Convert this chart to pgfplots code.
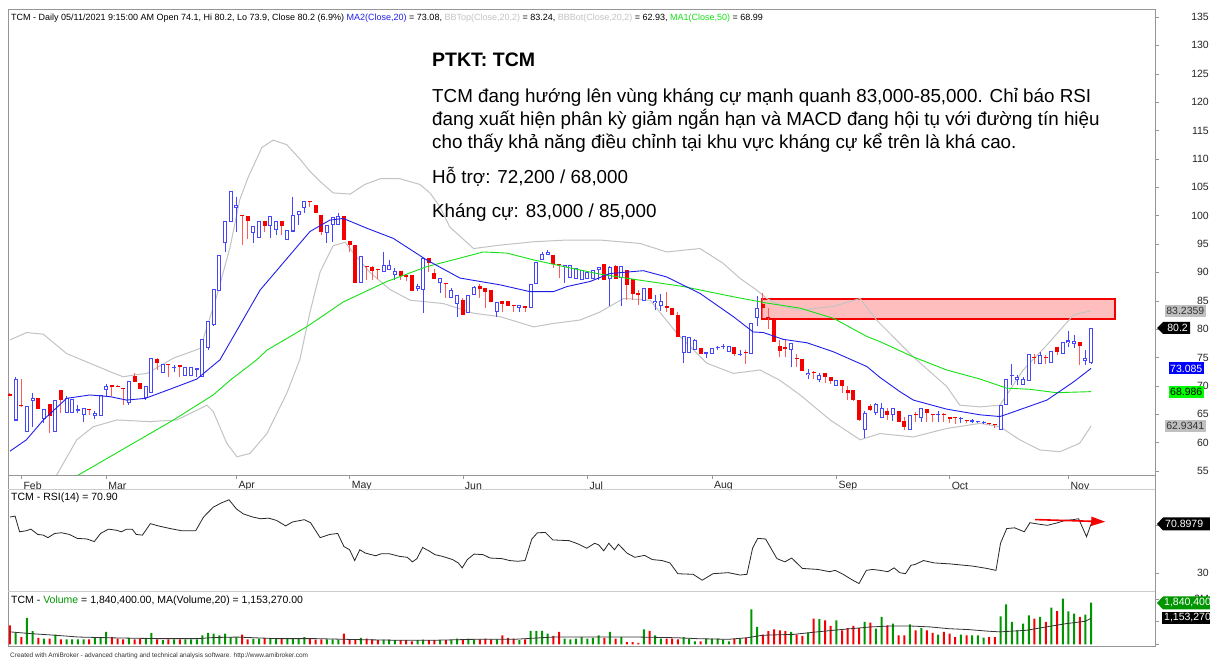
\documentclass[border=0pt]{standalone}
\usepackage{fontspec}
\setmainfont{Liberation Sans}
\usepackage{pgfplots}
\usepackage{pgfplotstable}
\pgfplotsset{compat=1.18}
\usetikzlibrary{arrows.meta}

\definecolor{cblue}{RGB}{70,70,255}
\definecolor{cred}{RGB}{245,0,0}
\definecolor{wred}{RGB}{255,90,90}
\definecolor{mablue}{RGB}{30,30,235}
\definecolor{magreen}{RGB}{20,225,20}
\definecolor{bbgray}{RGB}{195,195,195}
\definecolor{vgreen}{RGB}{0,150,0}
\definecolor{frm}{RGB}{150,150,150}
\definecolor{lblgray}{RGB}{192,192,192}
\definecolor{rectfill}{RGB}{255,190,190}
\definecolor{lgreen}{RGB}{0,255,0}

\pgfplotstableread{
i o h l c v up
0 68.5 68.7 68.2 68.3 0.84 0
1 63.9 71.5 63.9 71.3 0.52 1
2 66.6 71.2 66.3 66.4 0.32 0
3 61.8 66.5 61.8 66.5 1.17 1
4 67.4 68.7 62.8 67.9 0.58 1
5 67.9 67.9 66.0 66.0 0.28 0
6 64.1 66.0 63.4 66.0 0.25 1
7 66.8 66.8 61.7 64.7 0.25 0
8 61.8 67.5 61.8 67.5 0.43 1
9 69.3 69.3 65.2 67.6 0.22 0
10 65.2 68.2 65.2 67.9 0.22 1
11 65.2 67.7 65.2 67.7 0.22 1
12 65.6 66.7 65.2 65.9 0.22 1
13 64.9 66.1 63.7 66.1 0.22 1
14 66.0 66.0 64.9 65.8 0.22 0
15 64.7 65.6 64.2 65.2 0.32 1
16 64.7 68.4 64.7 68.4 0.32 1
17 69.3 70.3 68.0 69.9 0.55 1
18 70.1 70.1 68.3 69.8 0.32 0
19 70.0 70.1 69.9 69.9 0.25 0
20 69.6 69.6 66.6 69.4 0.22 0
21 67.0 70.9 66.6 70.9 0.28 1
22 71.7 72.2 70.6 70.6 0.22 0
23 70.5 70.5 69.4 69.4 0.25 0
24 67.8 70.0 67.6 70.0 0.28 1
25 68.8 74.9 68.8 74.9 0.50 1
26 74.7 74.9 72.8 74.1 0.22 0
27 72.3 73.9 72.3 73.9 0.18 1
28 73.9 73.9 71.6 73.7 0.22 0
29 73.1 73.6 72.5 73.4 0.22 1
30 73.6 73.6 71.6 73.4 0.22 0
31 71.7 73.4 71.7 73.4 0.22 1
32 71.8 73.4 71.8 73.4 0.22 1
33 72.8 73.1 71.5 73.1 0.22 1
34 71.6 78.2 71.6 78.2 0.40 1
35 76.6 81.4 76.3 81.4 0.50 1
36 80.7 87.1 80.5 87.1 0.47 1
37 86.8 93.0 86.8 93.0 0.40 1
38 95.1 99.1 93.6 99.1 0.47 1
39 98.9 104.4 98.9 104.4 0.32 1
40 101.3 103.3 97.2 101.9 0.32 1
41 100.1 100.1 94.8 99.9 0.43 0
42 100.0 100.0 95.8 99.1 0.22 0
43 96.9 98.2 95.2 98.2 0.25 1
44 96.0 99.1 96.0 99.1 0.25 1
45 99.1 99.1 97.2 98.1 0.28 0
46 98.1 99.9 96.0 99.9 0.25 1
47 97.4 99.1 96.6 99.1 0.25 1
48 99.1 99.1 96.6 98.2 0.25 0
49 95.7 97.4 95.7 97.4 0.25 1
50 97.2 103.3 97.2 100.1 0.25 1
51 100.1 100.8 98.3 100.8 0.25 1
52 101.3 102.5 100.4 102.5 0.32 1
53 102.6 102.6 101.6 102.4 0.25 0
54 101.9 101.9 100.4 100.4 0.21 0
55 100.1 100.1 96.6 97.2 0.22 0
56 96.9 98.3 95.1 98.3 0.22 1
57 98.3 99.7 95.3 99.7 0.22 1
58 98.3 100.5 98.3 99.9 0.18 1
59 99.9 99.9 95.7 95.7 0.47 0
60 95.6 95.6 93.6 94.8 0.22 0
61 94.8 94.8 88.1 88.1 0.21 0
62 88.1 92.9 88.1 92.9 0.28 1
63 91.2 91.2 88.7 91.0 0.25 0
64 90.9 91.1 88.7 90.3 0.22 0
65 90.6 90.6 88.9 90.4 0.18 0
66 90.1 93.6 90.1 91.3 0.21 1
67 90.4 92.2 90.4 91.3 0.21 1
68 89.5 90.7 88.7 90.3 0.18 1
69 90.3 90.3 88.7 89.4 0.18 0
70 89.5 89.5 88.4 89.2 0.18 0
71 89.5 89.5 86.7 86.7 0.13 0
72 87.0 88.0 86.8 87.6 0.18 1
73 86.9 92.5 82.8 92.5 0.21 1
74 92.5 92.5 90.1 91.6 0.18 0
75 89.9 90.6 88.8 88.8 0.18 0
76 88.2 89.0 86.3 89.0 0.18 1
77 88.2 88.2 85.4 88.0 0.18 0
78 85.4 87.3 85.4 86.9 0.18 1
79 84.4 86.0 82.2 86.0 0.25 1
80 85.1 85.4 82.5 82.5 0.18 0
81 82.8 86.0 82.8 86.0 0.25 1
82 86.0 87.6 86.0 87.4 0.22 1
83 87.6 88.0 85.4 87.0 0.22 0
84 87.2 87.2 83.7 86.6 0.25 0
85 86.9 86.9 84.8 84.8 0.22 0
86 83.1 84.8 82.2 84.8 0.22 1
87 85.0 85.0 83.1 84.5 0.40 0
88 85.0 85.0 84.0 84.0 0.28 0
89 84.3 84.3 83.1 84.1 0.25 0
90 83.8 84.2 83.1 84.2 0.18 1
91 84.0 84.0 83.1 83.8 0.22 0
92 83.8 88.0 83.8 88.0 0.59 1
93 88.0 91.9 88.0 91.9 0.59 1
94 92.2 93.6 92.2 93.2 0.59 1
95 93.1 93.9 93.1 93.6 0.47 1
96 93.1 93.1 90.8 91.5 0.37 0
97 91.5 91.5 89.0 91.3 0.55 0
98 90.9 91.3 88.1 91.3 0.25 1
99 89.0 91.3 89.0 91.3 0.22 1
100 88.8 90.7 88.8 90.7 0.25 1
101 88.7 90.4 88.7 90.4 0.32 1
102 88.8 90.0 88.8 90.0 0.25 1
103 88.8 90.4 88.8 90.4 0.28 1
104 90.4 90.9 88.7 90.9 0.40 1
105 91.5 91.5 88.7 88.7 0.28 0
106 88.8 91.1 84.0 90.9 0.55 1
107 91.1 91.3 88.9 88.9 0.25 0
108 89.0 91.2 84.0 91.2 0.32 1
109 90.4 90.4 85.1 87.8 0.10 0
110 88.8 88.8 85.1 86.2 0.10 0
111 86.4 86.9 84.2 86.0 0.06 0
112 85.0 87.2 85.0 87.2 0.66 1
113 87.2 87.2 85.3 85.3 0.59 0
114 84.6 86.0 83.3 85.0 0.40 1
115 84.0 86.2 83.2 85.0 0.25 1
116 84.0 86.5 83.0 83.7 0.25 0
117 83.7 83.7 82.5 82.5 0.25 0
118 82.5 83.0 78.7 78.7 0.22 0
119 75.8 78.8 74.1 78.8 0.32 1
120 75.8 78.7 75.8 78.7 0.25 1
121 76.4 78.2 76.4 78.1 0.13 1
122 76.6 76.6 75.6 75.6 0.13 0
123 75.7 76.0 74.9 75.9 0.25 1
124 75.7 76.6 75.7 76.6 0.25 1
125 76.6 77.0 76.3 76.8 0.25 1
126 76.8 77.3 76.5 77.0 0.21 1
127 76.0 77.0 76.0 77.0 0.13 1
128 76.8 76.8 75.3 75.7 0.25 0
129 75.4 76.3 75.2 75.7 0.25 1
130 76.0 76.4 73.9 75.8 0.28 0
131 75.7 81.0 75.7 81.0 1.55 1
132 81.9 85.9 80.6 83.8 0.77 1
133 84.4 86.3 82.0 83.8 0.43 0
134 82.2 83.7 80.0 81.9 0.58 0
135 81.6 81.6 77.8 77.8 0.66 0
136 77.0 78.0 75.1 76.2 0.62 0
137 76.8 78.0 75.1 76.5 0.58 0
138 76.4 77.5 73.3 77.5 0.55 1
139 75.0 75.6 73.3 74.8 0.43 0
140 74.7 74.7 72.7 72.7 0.37 0
141 71.9 73.0 71.3 72.3 0.52 1
142 72.5 72.6 71.3 72.3 1.14 0
143 71.0 72.3 70.6 71.9 1.11 1
144 72.3 72.3 70.5 71.5 1.06 0
145 71.6 71.6 70.3 70.9 0.81 0
146 69.9 71.0 69.9 71.0 1.06 1
147 71.0 71.0 68.8 69.9 0.62 0
148 69.3 69.9 67.5 68.7 0.72 0
149 69.3 69.3 67.3 67.5 0.81 0
150 67.5 67.5 63.8 64.0 0.72 0
151 62.2 65.5 60.8 65.3 0.99 1
152 66.5 66.8 65.5 65.8 0.96 0
153 65.2 67.0 64.8 66.8 0.69 1
154 64.3 66.9 64.3 66.1 1.21 1
155 65.5 66.1 64.0 64.9 0.84 0
156 64.9 66.1 63.9 66.1 0.91 1
157 65.5 65.5 63.7 63.7 0.40 0
158 63.8 64.6 62.3 62.8 0.40 0
159 62.2 64.9 62.2 64.9 0.88 1
160 65.0 65.4 63.7 64.8 0.62 0
161 64.3 66.1 63.7 66.1 0.72 1
162 65.9 65.9 63.7 65.3 0.62 0
163 65.0 65.0 63.6 64.8 0.50 0
164 64.8 65.6 63.7 65.0 0.43 1
165 65.1 65.2 63.6 64.9 0.55 0
166 64.6 64.6 63.5 64.1 0.47 0
167 64.5 64.5 63.3 64.3 0.32 0
168 64.2 64.5 63.5 64.4 0.43 1
169 64.0 64.0 63.5 63.8 0.40 0
170 63.7 64.1 63.5 64.0 0.40 1
171 63.6 63.9 63.4 63.8 0.40 1
172 63.4 63.8 63.2 63.7 0.29 1
173 63.5 63.5 63.1 63.3 0.32 0
174 63.3 63.3 62.6 63.1 0.32 0
175 62.3 66.6 62.3 66.6 1.24 1
176 66.6 71.3 66.6 71.3 1.77 1
177 71.8 73.9 70.2 72.0 0.99 1
178 71.0 71.9 70.2 71.5 0.62 1
179 70.2 71.5 70.2 71.2 0.91 1
180 70.9 75.6 70.9 75.6 1.28 1
181 75.1 75.6 73.9 74.9 1.14 0
182 73.9 75.9 73.9 75.4 1.21 1
183 75.1 75.4 73.9 74.9 0.99 0
184 74.0 76.2 74.0 76.2 1.62 1
185 76.9 76.9 75.4 76.0 1.47 0
186 75.7 77.8 75.7 77.8 2.02 1
187 77.5 79.7 76.8 78.0 1.46 1
188 77.4 79.0 76.7 77.9 1.36 1
189 77.7 77.7 73.7 77.0 1.21 0
190 74.3 76.4 73.7 74.9 1.31 1
191 74.1 80.2 73.9 80.2 1.84 1
}\ohlc

\newcommand\sm{\fontsize{10.5}{12}\selectfont}

\pgfplotsset{
  panel/.style={scale only axis, width=1147pt, xmin=-0.35, xmax=202.3,
    axis line style={frm}, tick style={frm, thin}, tick align=outside,
    major tick length=4pt, ytick pos=right, yticklabel pos=right,
    yticklabel style={anchor=east, xshift=50pt, inner sep=0pt, font=\sm, text=black!85},
    clip=true},
  candle/.style n args={3}{draw=none, mark=none, forget plot,
    restrict expr to domain={\thisrow{up}}{#1},
    error bars/.cd, y dir=both, y explicit, error mark=none,
    error bar style={draw=#2, line width=#3}},
}

\begin{document}
\begin{tikzpicture}
\fill[white] (0pt,0pt) rectangle (1210pt,660pt);
\path[use as bounding box] (0pt,0pt) rectangle (1210pt,660pt);

% ---------------- price panel ----------------
\begin{axis}[panel, at={(8pt,185pt)}, anchor=south west, height=466pt,
  ymin=54.3, ymax=136.41,
  xtick={2,17,40,60,80,102,124,146,166,187},
  xticklabels={Feb,Mar,Apr,May,Jun,Jul,Aug,Sep,Oct,Nov},
  xtick pos=bottom,
  xticklabel style={anchor=west, inner sep=0pt, xshift=2pt, yshift=-7pt, font=\sm, text=black!85},
  ytick={55,60,...,135},
  yticklabels={55,60,65,70,75,80,85,90,95,100,105,110,115,120,125,130,135}]

\fill[rectfill] (axis cs:132.9,81.8) rectangle (axis cs:195.2,85.3);
\draw[cred, line width=2pt] (axis cs:132.9,81.8) rectangle (axis cs:195.2,85.3);

% Bollinger bands
\addplot[bbgray, line width=1pt] coordinates {(0,78.1) (2.95,79.4) (5.9,79.1) (10.0,75.7) (14.1,74.0) (17.7,72.5) (20.0,71.6) (21.8,71.9) (24.2,72.2) (28.9,74.9) (33.6,76.6) (36.5,85.7) (38.9,94.5) (40.6,102.8) (42.1,106.8) (44.5,112.0) (46.5,113.3) (48.9,112.5) (51.2,110.0) (53.0,107.8) (54.8,106.0) (57.1,104.0) (60.1,103.8) (62.7,105.5) (65.4,106.5) (68.9,106.5) (72.4,105.5) (74.2,104.0) (76.0,101.5) (77.7,98.0) (81.9,94.2) (86.6,94.8) (92.5,95.4) (98.4,95.7) (104.2,95.7) (111.3,95.1) (116.0,93.6) (121.9,94.2) (126.0,91.6) (128.9,89.0) (131.9,86.9) (133.7,85.4) (136.6,84.0) (139.6,83.4) (145.5,84.0) (150.2,85.4) (153.1,81.6) (157.2,77.5) (159.6,75.1) (165.5,69.9) (167.8,66.6) (171.4,66.3) (174.9,66.6) (179.0,72.8) (183.2,77.2) (187.9,82.5) (191,83.24)};
\addplot[bbgray, line width=1pt] coordinates {(7.1,51.7) (8.25,54.3) (11.8,60.5) (14.7,62.8) (18.9,64.0) (24.7,63.7) (29.5,64.0) (34.8,66.6) (35.9,65.5) (38.3,59.9) (40.1,57.5) (42.4,58.1) (45.4,61.6) (48.9,68.7) (51.2,74.6) (53.0,83.0) (54.8,90.1) (57.1,94.7) (59.2,95.3) (61.0,93.0) (63.6,90.0) (67.1,87.0) (70.7,85.1) (76.6,84.5) (81.9,82.8) (86.6,82.2) (92.5,80.4) (96.0,81.0) (100.7,81.6) (104.2,83.0) (108.4,85.4) (113.1,85.1) (117.8,79.3) (123.1,74.0) (127.8,72.2) (132.5,72.8) (136.0,71.0) (139.6,68.4) (144.9,64.0) (150.2,60.5) (153.7,61.6) (159.6,61.0) (165.5,62.5) (171.4,63.4) (174.9,62.8) (178.4,60.5) (182.0,58.7) (185.5,58.4) (189.0,59.9) (191,62.93)};

% candles: up
\addplot[candle={0.5:1.5}{cblue}{1pt}] table[x=i, y=h, y error plus expr=0, y error minus expr={\thisrow{h}-\thisrow{l}}] {\ohlc};
\addplot[candle={0.5:1.5}{cblue}{4pt}] table[x=i, y=c, y error plus expr=0, y error minus expr={max(\thisrow{c}-\thisrow{o},0.18)}] {\ohlc};
\addplot[candle={0.5:1.5}{white}{2pt}] table[x=i, y expr={\thisrow{c}-0.18}, y error plus expr=0, y error minus expr={max(\thisrow{c}-\thisrow{o}-0.36,0)}] {\ohlc};
% candles: down
\addplot[candle={-0.5:0.5}{wred}{1pt}] table[x=i, y=h, y error plus expr=0, y error minus expr={\thisrow{h}-\thisrow{l}}] {\ohlc};
\addplot[candle={-0.5:0.5}{cred}{4pt}] table[x=i, y=o, y error plus expr=0, y error minus expr={max(\thisrow{o}-\thisrow{c},0.18)}] {\ohlc};

% MA50
\addplot[magreen, line width=0.9pt] coordinates {(8.8,53.1) (12.1,54.3) (21.8,59.9) (28.9,64.0) (35.9,68.4) (38.9,71.0) (43.6,74.6) (45.4,76.3) (52.4,80.4) (58.9,84.8) (66.6,88.4) (73.6,91.0) (78.3,92.2) (83.6,93.6) (87.8,93.4) (92.5,92.2) (98.4,90.9) (104.2,89.7) (110.1,88.8) (119.0,87.5) (127.8,85.7) (133.7,84.6) (139.6,83.7) (145.5,81.9) (151.4,78.7) (153.7,77.8) (159.6,75.1) (165.5,72.8) (171.4,71.2) (176.1,69.6) (180.2,69.4) (184.9,68.8) (191,68.99)};
% MA20
\addplot[mablue, line width=0.9pt] coordinates {(0,58.5) (2.9,60.5) (5.9,64.0) (10.0,67.8) (14.1,68.4) (17.7,68.1) (20.6,67.5) (23.9,67.8) (28.5,69.5) (33.0,71.2) (37.1,74.6) (44.2,86.9) (53.0,97.2) (56.5,99.2) (58.9,99.5) (63.0,97.8) (67.7,96.0) (73.6,92.2) (79.5,89.0) (86.6,87.8) (91.9,86.6) (96.0,86.6) (98.4,87.5) (102.5,88.4) (106,89.8) (111.9,90.3) (116.0,89.2) (121.9,86.3) (127.8,82.2) (131.3,79.5) (133.1,79.4) (136.6,78.2) (140.8,77.6) (145.5,76.0) (151.4,73.4) (153.7,71.5) (157.2,69.0) (159.6,67.5) (165.5,65.9) (171.4,64.9) (174.9,64.6) (176.1,65.0) (183.2,67.5) (187.9,70.7) (191,73.08)};
\end{axis}

% ---------------- RSI panel ----------------
\begin{axis}[panel, at={(8pt,68.3pt)}, anchor=south west, height=102.2pt,
  ymin=14.4, ymax=99.7, xtick=\empty, ytick={30,70}, yticklabels={30,{}}]
\addplot[black!85, line width=0.8pt] coordinates {(0,76.7) (0.9,77.5) (1.7,64.4) (2.8,65.2) (3.7,66.6) (4.9,62.2) (5.9,61.6) (6.7,59.5) (7.9,63.0) (9.1,63.6) (10.5,62.2) (11.9,58.9) (13.6,58.4) (14.9,56.2) (16.0,63.0) (17.4,66.6) (18.8,65.7) (19.7,64.4) (20.6,66.6) (21.6,66.6) (22.3,62.2) (23.4,61.6) (24.8,71.2) (26.2,69.3) (28.3,67.1) (30.4,65.2) (32.8,65.2) (34.2,76.7) (35.9,84.9) (37.3,88.4) (38.7,91.1) (40.0,83.5) (41.2,79.4) (42.9,76.7) (44.3,75.3) (45.7,75.8) (47.1,73.9) (48.7,69.3) (49.9,72.6) (52.0,74.5) (53.1,72.0) (54.8,59.5) (56.5,62.2) (57.9,63.0) (59.0,52.1) (60.0,49.4) (60.9,40.4) (61.8,49.4) (62.8,46.6) (64.6,44.4) (65.6,46.1) (67.0,46.1) (68.8,43.9) (70.2,43.1) (71.1,39.3) (71.9,42.0) (72.9,51.3) (74.0,48.5) (75.1,45.3) (76.4,43.9) (78.2,41.2) (79.2,38.4) (79.9,34.3) (80.8,41.2) (82.0,45.8) (83.6,45.3) (84.8,42.5) (86.9,42.0) (88.3,40.4) (89.7,39.8) (91.0,40.4) (92.2,58.4) (93.2,63.6) (94.6,63.8) (95.9,57.6) (97.4,57.3) (98.8,57.0) (100.5,54.0) (101.9,50.7) (103.3,54.8) (104.0,53.5) (104.9,48.5) (105.8,54.8) (106.8,49.4) (107.5,54.0) (109.0,46.6) (110.4,43.1) (112.1,44.7) (113.5,41.2) (115.2,40.4) (116.6,38.4) (118.0,29.4) (120.7,28.9) (122.3,24.0) (124.2,29.4) (126.9,30.3) (129.0,28.3) (130.2,28.9) (131.2,50.7) (132.1,58.9) (133.5,58.4) (135.5,42.0) (136.9,39.3) (138.1,42.5) (140.0,33.8) (142.7,33.0) (144.8,31.1) (145.8,32.2) (147.2,28.9) (148.6,24.8) (150.0,21.2) (151.3,32.2) (152.4,33.0) (153.7,32.2) (155.1,31.1) (156.2,34.3) (157.2,30.3) (158.2,29.4) (159.2,36.5) (159.9,37.1) (161.4,40.4) (163.3,38.4) (166.1,37.6) (170.2,35.7) (172.6,33.8) (174.2,32.2) (175.0,54.8) (176.1,67.1) (177.5,67.7) (179.2,64.4) (180.2,72.0) (181.2,71.2) (182.3,70.4) (183.3,69.8) (185.0,71.8) (186.4,73.9) (187.8,74.5) (188.8,75.3) (190.2,60.3) (191.0,70.9)};
\draw[cred, line width=1.6pt, -{Triangle[length=14pt,width=9pt]}] (axis cs:181.1,74.6) -- (axis cs:193.5,72.8);
\end{axis}

% ---------------- Volume panel ----------------
\begin{axis}[panel, at={(8pt,13.3pt)}, anchor=south west, height=55pt,
  ymin=-0.106, ymax=2.327, xtick=\empty, ytick={0,1,2}, yticklabels={{},{},2M}]
\addplot[ybar, bar width=2pt, bar shift=0pt, fill=vgreen, draw=none, forget plot,
  restrict expr to domain={\thisrow{up}}{0.5:1.5}] table[x=i, y=v] {\ohlc};
\addplot[ybar, bar width=2pt, bar shift=0pt, fill=cred, draw=none, forget plot,
  restrict expr to domain={\thisrow{up}}{-0.5:0.5}] table[x=i, y=v] {\ohlc};
\addplot[black!80, line width=0.8pt] coordinates {(0,0.55) (3.8,0.47) (8.0,0.40) (12.2,0.32) (19.2,0.28) (26.2,0.25) (33.1,0.25) (36,0.30) (40.1,0.32) (47.1,0.25) (54.1,0.25) (61.1,0.21) (68.1,0.18) (75.1,0.18) (82.0,0.22) (89.0,0.22) (96.0,0.32) (104.2,0.32) (111.1,0.32) (117.9,0.29) (121.4,0.25) (126.9,0.22) (130.2,0.29) (133.0,0.40) (138.5,0.44) (142.6,0.55) (146.7,0.65) (152.2,0.77) (155.6,0.81) (159.0,0.81) (162.5,0.77) (165.9,0.69) (169.4,0.65) (172.8,0.58) (174.9,0.55) (176.9,0.58) (179.6,0.62) (183.1,0.77) (186.5,0.91) (190.0,1.02) (191.0,1.153)};
\end{axis}

% ---------------- frames ----------------
\draw[frm] (8pt,185pt) -- (8pt,170.5pt);
\draw[frm] (1155pt,185pt) -- (1155pt,170.5pt);
\draw[gray!40, line width=1.5pt] (8pt,170.5pt) -- (1155pt,170.5pt);
\draw[gray!40, line width=1.5pt] (8pt,68.3pt) -- (1155pt,68.3pt);

% ---------------- headers ----------------
\node[anchor=base west, inner sep=0, font=\fontsize{9}{11}\selectfont] at (11pt,639.5pt) {TCM - Daily 05/11/2021 9:15:00 AM Open 74.1, Hi 80.2, Lo 73.9, Close 80.2 (6.9\%) \textcolor{mablue}{MA2(Close,20)} = 73.08, \textcolor{bbgray}{BBTop(Close,20,2)} = 83.24, \textcolor{bbgray}{BBBot(Close,20,2)} = 62.93, \textcolor{magreen}{MA1(Close,50)} = 68.99};
\node[anchor=base west, inner sep=0, font=\sm] at (11pt,159.2pt) {TCM - RSI(14) = 70.90};
\node[anchor=base west, inner sep=0, font=\sm] at (11pt,56.2pt) {TCM - \textcolor{vgreen}{Volume} = 1,840,400.00, MA(Volume,20) = 1,153,270.00};
\node[anchor=base west, inner sep=0, font=\fontsize{6.5}{8}\selectfont, text=black!80] at (10pt,2.4pt) {Created with AmiBroker - advanced charting and technical analysis software. http://www.amibroker.com};

% ---------------- annotation ----------------
\node[anchor=base west, inner sep=0, font=\fontsize{19.5}{23}\selectfont\bfseries] at (432pt,593pt) {PTKT: TCM};
\begin{scope}[every node/.style={anchor=base west, inner sep=0, font=\fontsize{18.8}{23}\selectfont}]
\node at (432pt,557.5pt) {TCM đang hướng lên vùng kháng cự mạnh quanh 83,000-85,000. Chỉ báo RSI};
\node at (432pt,534.5pt) {đang xuất hiện phân kỳ giảm ngắn hạn và MACD đang hội tụ với đường tín hiệu};
\node at (432pt,511.5pt) {cho thấy khả năng điều chỉnh tại khu vực kháng cự kể trên là khá cao.};
\node at (432pt,476.5pt) {Hỗ trợ: 72,200 / 68,000};
\node at (432pt,442.5pt) {Kháng cự: 83,000 / 85,000};
\end{scope}

% ---------------- value labels ----------------
\node[fill=lblgray, text=black!80, font=\sm, anchor=east, inner xsep=1.5pt, inner ysep=0pt, minimum height=12pt] at (1206pt,349.3pt) {83.2359};
\fill[black] (1157pt,332pt) -- (1163pt,338pt) -- (1190pt,338pt) -- (1190pt,326pt) -- (1163pt,326pt) -- cycle;
\node[text=white, font=\sm, anchor=east, inner sep=0pt] at (1188pt,332pt) {80.2};
\node[fill=blue, text=white, font=\sm, anchor=east, inner xsep=1.5pt, inner ysep=0pt, minimum height=12pt] at (1204pt,291.6pt) {73.085};
\node[fill=lgreen, text=black, font=\sm, anchor=east, inner xsep=1.5pt, inner ysep=0pt, minimum height=12pt] at (1204pt,268.4pt) {68.986};
\node[fill=lblgray, text=black!80, font=\sm, anchor=east, inner xsep=1.5pt, inner ysep=0pt, minimum height=12pt] at (1206pt,234pt) {62.9341};

\fill[black] (1157pt,136pt) -- (1163pt,142.5pt) -- (1215pt,142.5pt) -- (1215pt,129.5pt) -- (1163pt,129.5pt) -- cycle;
\node[text=white, font=\sm, anchor=west, inner sep=0pt] at (1165pt,136pt) {70.8979};

\fill[vgreen] (1157pt,57pt) -- (1163pt,63.5pt) -- (1215pt,63.5pt) -- (1215pt,50.5pt) -- (1163pt,50.5pt) -- cycle;
\node[text=white, font=\sm, anchor=west, inner sep=0pt] at (1164pt,57pt) {1,840,400};
\fill[black] (1162pt,48pt) rectangle (1215pt,36pt);
\node[text=white, font=\sm, anchor=west, inner sep=0pt] at (1164pt,42pt) {1,153,270};
\end{tikzpicture}
\end{document}
